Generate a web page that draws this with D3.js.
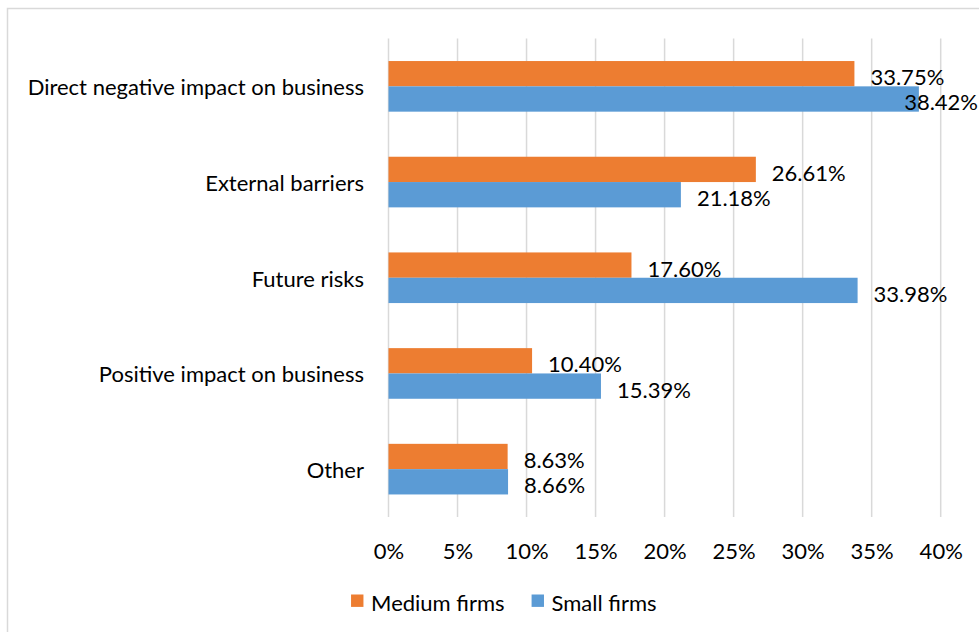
<!DOCTYPE html>
<html>
<head>
<meta charset="utf-8">
<script src="https://cdn.jsdelivr.net/npm/d3@7"></script>
<style>
    body { margin: 0; background: #fff; }
    text { font-family: Lato, "Open Sans", sans-serif; fill: #000; }
</style>
</head>
<body>
<script>
var categories = ["Direct negative impact on business", "External barriers", "Future risks", "Positive impact on business", "Other"];
var seriesNames = ["Medium firms", "Small firms"];
var mediumFirms = [33.75, 26.61, 17.60, 10.40, 8.63];
var smallFirms = [38.42, 21.18, 33.98, 15.39, 8.66];
var xTicks = [0, 5, 10, 15, 20, 25, 30, 35, 40];
var colors = ["#ED7D31", "#5B9BD5"];

function render() {
    var W = 979, H = 632;
    var margin = {top: 38.5, left: 388.5}, width = 552.2, height = 478.5;
    var fontSize = 22;
    var labelRight = 978;

    var rows = categories.map(function(c, i) {
        return {cat: c, values: [mediumFirms[i], smallFirms[i]]};
    });

    var root = d3.select("body")
        .append("svg")
        .attr("width", W)
        .attr("height", H);

    // chart frame (runs off the photo at right and bottom)
    root.append("rect")
        .attr("x", 7.5)
        .attr("y", 8.5)
        .attr("width", 1000)
        .attr("height", 700)
        .attr("fill", "none")
        .attr("stroke", "#d9d9d9")
        .attr("stroke-width", 1.5);

    var svg = root.append("g")
        .attr("transform", "translate(" + margin.left + "," + margin.top + ")");

    var x = d3.scaleLinear().domain([0, 40]).range([0, width]);
    var y = d3.scaleBand()
        .domain(categories)
        .range([0, height])
        .paddingInner(0.471)
        .paddingOuter(0.2355);
    var ySub = d3.scaleBand()
        .domain(seriesNames)
        .range([0, y.bandwidth()]);

    // gridlines
    svg.selectAll("line.grid")
        .data(xTicks)
        .enter()
        .append("line")
        .attr("class", "grid")
        .attr("x1", function(d) { return x(d); })
        .attr("x2", function(d) { return x(d); })
        .attr("y1", 0)
        .attr("y2", height)
        .attr("stroke", "#d9d9d9")
        .attr("stroke-width", 1.5);

    // x tick labels
    var xAxis = svg.append("g")
        .attr("transform", "translate(0," + height + ")")
        .call(d3.axisBottom(x).tickValues(xTicks).tickSize(0).tickFormat(function(d) { return d + "%"; }));
    xAxis.select(".domain").remove();
    xAxis.selectAll("text")
        .attr("y", 34.5)
        .attr("dy", "0.35em")
        .style("font-size", fontSize + "px")
        .style("font-family", "Lato, sans-serif")
        .attr("fill", "#000");

    // category labels
    var yAxis = svg.append("g")
        .call(d3.axisLeft(y).tickSize(0).tickPadding(24.5));
    yAxis.select(".domain").remove();
    yAxis.selectAll("text")
        .attr("dy", "0.4em")
        .style("font-size", fontSize + "px")
        .style("font-family", "Lato, sans-serif")
        .attr("fill", "#000");

    var groups = svg.selectAll("g.cat")
        .data(rows)
        .enter()
        .append("g")
        .attr("class", "cat")
        .attr("transform", function(d) { return "translate(0," + y(d.cat) + ")"; });

    groups.selectAll("rect")
        .data(function(d) { return d.values; })
        .enter()
        .append("rect")
        .attr("x", x(0))
        .attr("y", function(d, i) { return ySub(seriesNames[i]); })
        .attr("width", function(d) { return x(d) - x(0); })
        .attr("height", ySub.bandwidth())
        .attr("fill", function(d, i) { return colors[i]; });

    // value labels, kept inside the chart at the right
    groups.selectAll("text.val")
        .data(function(d) { return d.values; })
        .enter()
        .append("text")
        .attr("class", "val")
        .attr("y", function(d, i) { return ySub(seriesNames[i]) + ySub.bandwidth() / 2; })
        .attr("dy", "0.52em")
        .style("font-size", fontSize + "px")
        .text(function(d) { return d.toFixed(2) + "%"; })
        .attr("x", function(d) {
            var w = this.getComputedTextLength();
            return Math.min(x(d) + 16, labelRight - margin.left - w);
        });

    // legend
    var legend = root.append("g");
    var items = legend.selectAll("g")
        .data(seriesNames)
        .enter()
        .append("g");
    items.append("rect")
        .attr("width", 12.4)
        .attr("height", 12.4)
        .attr("y", 594.5)
        .attr("fill", function(d, i) { return colors[i]; });
    items.append("text")
        .attr("x", 20)
        .attr("y", 602)
        .attr("dy", "0.4em")
        .style("font-size", fontSize + "px")
        .text(function(d) { return d; });
    var cx = 0;
    items.each(function(d, i) {
        var w = d3.select(this).select("text").node().getComputedTextLength();
        d3.select(this).attr("transform", "translate(" + cx + ",0)");
        cx += 20 + w + (i < seriesNames.length - 1 ? 27 : 0);
    });
    legend.attr("transform", "translate(" + (503.8 - cx / 2) + ",0)");
}

render();
</script>
</body>
</html>
